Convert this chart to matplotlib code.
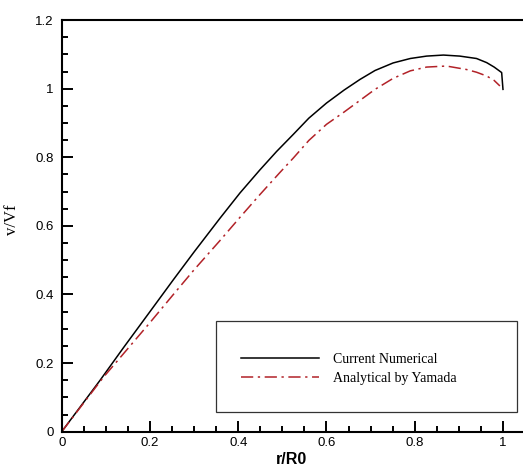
"""Velocity profile v/Vf vs r/R0: numerical vs Yamada analytical."""

import numpy as np
import matplotlib
matplotlib.use("Agg")
import matplotlib.pyplot as plt
from matplotlib.patches import Rectangle
from matplotlib.ticker import MultipleLocator, FuncFormatter

# Current numerical solution
r_num = [0.0, 0.087, 0.14, 0.2, 0.253, 0.3, 0.3585, 0.404, 0.449, 0.487,
         0.525, 0.56, 0.6, 0.64, 0.676, 0.71, 0.751, 0.79, 0.827, 0.865,
         0.902, 0.94, 0.963, 0.98, 0.997, 1.0]
v_num = [0.0, 0.150, 0.245, 0.350, 0.443, 0.524, 0.622, 0.696, 0.763, 0.817,
         0.867, 0.914, 0.958, 0.996, 1.027, 1.053, 1.075, 1.088, 1.095, 1.098,
         1.095, 1.088, 1.076, 1.063, 1.047, 0.998]

# Analytical by Yamada
r_ana = [0.0, 0.094, 0.155, 0.2, 0.253, 0.3, 0.3585, 0.404, 0.449, 0.494,
         0.525, 0.56, 0.6, 0.64, 0.676, 0.71, 0.751, 0.79, 0.827, 0.872,
         0.917, 0.94, 0.963, 0.98, 0.993]
v_ana = [0.0, 0.158, 0.250, 0.318, 0.400, 0.472, 0.557, 0.625, 0.691, 0.755,
         0.798, 0.849, 0.896, 0.932, 0.966, 0.998, 1.030, 1.052, 1.063, 1.066,
         1.056, 1.048, 1.037, 1.024, 1.008]

RED = "#B22228"

fig = plt.figure(figsize=(5.23, 4.68), dpi=100)
ax = fig.add_axes([0.118, 0.0776, 0.880, 0.8795])

ax.plot(r_num, v_num, color="black", linewidth=1.1, label="Current Numerical")
ax.plot(r_ana, v_ana, color=RED, linewidth=1.1, dashes=(8, 3, 1.5, 3),
        label="Analytical by Yamada")

ax.set_xlim(0, 1.043)
ax.set_ylim(0, 1.2)
ax.xaxis.set_major_locator(MultipleLocator(0.2))
ax.xaxis.set_minor_locator(MultipleLocator(0.05))
ax.yaxis.set_major_locator(MultipleLocator(0.2))
ax.yaxis.set_minor_locator(MultipleLocator(0.05))
ax.xaxis.set_major_formatter(FuncFormatter(lambda v, p: f"{v:g}" if v <= 1.0001 else ""))
ax.yaxis.set_major_formatter(FuncFormatter(lambda v, p: f"{v:g}"))

ax.tick_params(which="both", direction="in", top=False, right=False,
               width=1.4, labelsize=9.5)
ax.tick_params(which="major", length=8)
ax.tick_params(which="minor", length=4.3)
ax.tick_params(axis="y", pad=6)
ax.tick_params(axis="x", pad=4)
for lab in ax.get_xticklabels() + ax.get_yticklabels():
    lab.set_family("Liberation Sans")

for s in ["left", "bottom", "top"]:
    ax.spines[s].set_linewidth(1.5)
ax.spines["right"].set_visible(False)

ax.set_xlabel("r/R0", fontsize=11.5, fontweight="bold", family="Liberation Sans",
              va="top")
ax.xaxis.set_label_coords(0.5, -0.05)
ax.set_ylabel("v/Vf", fontsize=12, family="Liberation Serif")
ax.yaxis.set_label_coords(-0.09, 0.514)

ax.add_patch(Rectangle((0.335, 0.049), 0.654, 0.221, transform=ax.transAxes,
                       fill=False, edgecolor="#333333", linewidth=0.9, zorder=3))
ax.legend(loc="center left", bbox_to_anchor=(0.389, 0.152), frameon=False,
          borderpad=0, borderaxespad=0, handlelength=5.66, handletextpad=1.0,
          labelspacing=0.45, prop={"family": "Liberation Serif", "size": 10})

fig.savefig("out.png", dpi=100)
